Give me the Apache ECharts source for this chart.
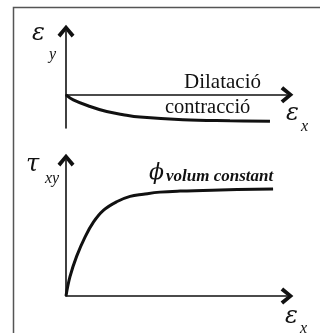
<!DOCTYPE html>
<html>
<head>
<meta charset="utf-8">
<script src="https://cdn.jsdelivr.net/npm/echarts@6/dist/echarts.min.js"></script>
<style>
  html, body { margin: 0; padding: 0; background: #fff; }
  #chart { width: 320px; height: 333px; }
</style>
</head>
<body>
<div id="chart"></div>
<script>
// Strain response of a granular sample: lateral strain vs axial strain (top)
// and shear stress vs axial strain (bottom).
const epsX = [0, 0.33, 1.09, 1.84, 2.59, 3.35, 5.29, 7.42, 9.23];
const epsY = [0, -0.19, -0.44, -0.63, -0.75, -0.84, -0.94, -0.98, -1.0];

const epsXShear = [0, 0.18, 0.48, 0.86, 1.24, 1.69, 2.29, 2.90, 3.50, 4.25, 5.16, 6.97, 9.37];
const tauXY = [0, 0.18, 0.37, 0.55, 0.69, 0.80, 0.88, 0.93, 0.95, 0.97, 0.98, 0.99, 1.0];

const xRange = [0, 10];
const topYRange = [-1.25, 2.4];
const bottomYRange = [0, 1.27];

const serif = '"Liberation Serif", "Times New Roman", serif';
const greek = '"DejaVu Serif", "Liberation Serif", serif';
const ink = '#111';

// open chevron arrow head, drawn pointing up (the axis rotates it)
const chevron = 'path://M10,0 L20,12 L16.6,15 L10,6.8 L3.4,15 L0,12 Z';

function axisLine() {
  return {
    show: true,
    onZero: true,
    symbol: ['none', chevron],
    symbolSize: [17, 16],
    lineStyle: { color: ink, width: 1.6 }
  };
}

function pairs(xs, ys) {
  return xs.map((x, i) => [x, ys[i]]);
}

function xAxisFor(gridIndex) {
  return {
    type: 'value', gridIndex, min: xRange[0], max: xRange[1],
    axisLine: axisLine(), axisTick: { show: false }, axisLabel: { show: false },
    splitLine: { show: false }
  };
}

function yAxisFor(gridIndex, range) {
  return {
    type: 'value', gridIndex, min: range[0], max: range[1],
    axisLine: axisLine(), axisTick: { show: false }, axisLabel: { show: false },
    splitLine: { show: false }
  };
}

function label(text, x, y, size, style, family) {
  return {
    type: 'text', x, y, z: 100,
    style: {
      text, fill: ink,
      font: (style || 'italic') + ' ' + size + 'px ' + (family || serif),
      align: 'left', verticalAlign: 'middle'
    }
  };
}

const chart = echarts.init(document.getElementById('chart'), null, { renderer: 'canvas' });

chart.setOption({
  animation: false,
  backgroundColor: '#fff',
  grid: [
    { left: 66, right: 33, top: 31, bottom: 205 },
    { left: 66, right: 33, top: 160, bottom: 37 }
  ],
  xAxis: [xAxisFor(0), xAxisFor(1)],
  yAxis: [yAxisFor(0, topYRange), yAxisFor(1, bottomYRange)],
  series: [
    {
      type: 'line', xAxisIndex: 0, yAxisIndex: 0,
      data: pairs(epsX, epsY), smooth: 0.4,
      showSymbol: false, lineStyle: { color: ink, width: 3 }
    },
    {
      type: 'line', xAxisIndex: 1, yAxisIndex: 1,
      data: pairs(epsXShear, tauXY), smooth: 0.4,
      showSymbol: false, lineStyle: { color: ink, width: 3 }
    }
  ],
  graphic: [
    {
      type: 'rect', z: 90,
      shape: { x: 13.5, y: 7.5, width: 400, height: 400 },
      style: { fill: 'none', stroke: '#555', lineWidth: 1.5 }
    },
    label('ε', 32, 34, 24, 'italic', greek),
    label('y', 49, 55, 16),
    label('Dilatació', 184, 82.5, 21, 'normal'),
    label('contracció', 165, 108, 20.5, 'normal'),
    label('ε', 286, 114, 24, 'italic', greek),
    label('x', 301, 127, 16),
    label('τ', 26, 165, 24, 'italic', greek),
    label('xy', 45, 179, 16),
    label('ϕ', 149, 173, 22, 'italic', greek),
    label('volum constant', 166, 177, 17, 'italic bold'),
    label('ε', 285, 317, 24, 'italic', greek),
    label('x', 300, 329, 16)
  ]
});
</script>
</body>
</html>
